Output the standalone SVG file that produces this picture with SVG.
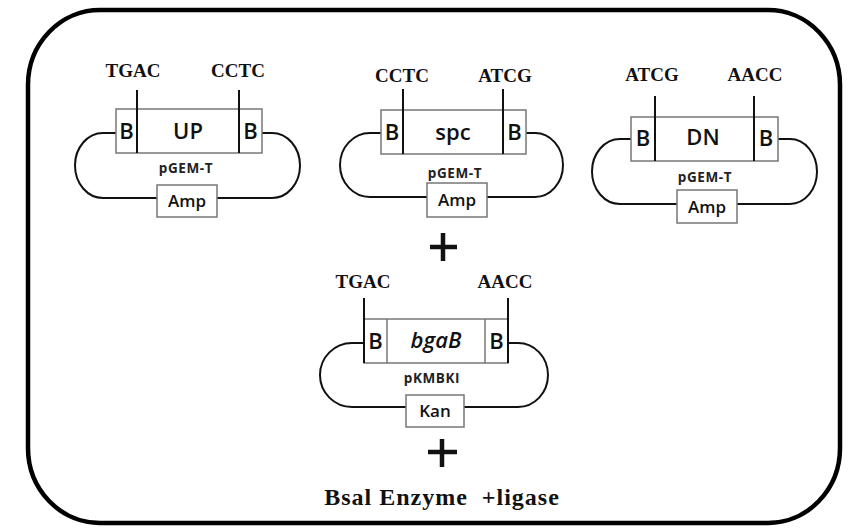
<svg xmlns="http://www.w3.org/2000/svg" width="851" height="528" viewBox="0 0 851 528">
<style>
.seq{font-family:"Liberation Serif",serif;font-weight:bold;font-size:19px;fill:#111;text-anchor:middle}
.lbl{font-family:"Open Sans","Liberation Sans",sans-serif;font-weight:600;font-size:22px;fill:#111;text-anchor:middle}
.vec{font-family:"Open Sans","Liberation Sans",sans-serif;font-weight:bold;font-size:13.5px;letter-spacing:0.6px;fill:#222;text-anchor:middle}
.mk{font-family:"Open Sans","Liberation Sans",sans-serif;font-weight:600;font-size:17px;fill:#111;text-anchor:middle}
.box{fill:#fff;stroke:#777;stroke-width:1.5}
.cut{stroke:#111;stroke-width:2;fill:none}
.loop{stroke:#111;stroke-width:2;fill:none}
.plus{stroke:#111;stroke-width:4.5;fill:none}
</style>
<rect x="28" y="10" width="812" height="513" rx="72" ry="75" fill="none" stroke="#000" stroke-width="4.5"/>

<g id="connectors">
<path class="loop" d="M116,133 H103 A28,32.5 0 0 0 103,198 H157 M217,198 H272 A28,32.5 0 0 0 272,133 H262"/>
<path class="loop" d="M381,133 H370 A30,32 0 0 0 370,197 H427 M487,197 H535 A28,32 0 0 0 535,133 H526"/>
<path class="loop" d="M631,139 H620 A28,32.5 0 0 0 620,204 H677 M737,204 H790 A27,32.5 0 0 0 790,139 H778"/>
<path class="loop" d="M364,343 H352 A32,32 0 0 0 352,407 H406 M464,407 H518 A30,32 0 0 0 518,343 H508"/>
</g>

<g id="plasmid-UP">
<rect class="box" x="116" y="109" width="146" height="44"/>
<line class="cut" x1="137" y1="90" x2="137" y2="153"/>
<line class="cut" x1="239" y1="90" x2="239" y2="153"/>
<text class="seq" x="133" y="77">TGAC</text>
<text class="seq" x="238" y="77">CCTC</text>
<text class="lbl" x="126.5" y="139">B</text>
<text class="lbl" x="188" y="139">UP</text>
<text class="lbl" x="250.5" y="139">B</text>
<text class="vec" x="186" y="173">pGEM-T</text>
<rect class="box" x="157" y="185" width="60" height="32"/>
<text class="mk" x="187" y="207">Amp</text>
</g>

<g id="plasmid-spc">
<rect class="box" x="381" y="110" width="145" height="44"/>
<line class="cut" x1="403" y1="89" x2="403" y2="154"/>
<line class="cut" x1="503" y1="89" x2="503" y2="154"/>
<text class="seq" x="402" y="82">CCTC</text>
<text class="seq" x="505" y="82">ATCG</text>
<text class="lbl" x="392" y="140">B</text>
<text class="lbl" x="453" y="140">spc</text>
<text class="lbl" x="514.5" y="140">B</text>
<text class="vec" x="455" y="178">pGEM-T</text>
<rect class="box" x="427" y="183" width="60" height="34"/>
<text class="mk" x="457" y="206">Amp</text>
</g>

<g id="plasmid-DN">
<rect class="box" x="631" y="117" width="147" height="44"/>
<line class="cut" x1="655" y1="96" x2="655" y2="161"/>
<line class="cut" x1="754" y1="96" x2="754" y2="161"/>
<text class="seq" x="652" y="81">ATCG</text>
<text class="seq" x="755" y="81">AACC</text>
<text class="lbl" x="643" y="146">B</text>
<text class="lbl" x="703" y="145">DN</text>
<text class="lbl" x="766" y="146">B</text>
<text class="vec" x="705" y="182">pGEM-T</text>
<rect class="box" x="677" y="190" width="60" height="33"/>
<text class="mk" x="707" y="213">Amp</text>
</g>

<g id="plus-1"><path class="plus" d="M430,247 H457 M443,233 V261"/></g>

<g id="plasmid-bgaB">
<rect class="box" x="364" y="319" width="144" height="44"/>
<line class="box" x1="387" y1="319" x2="387" y2="363"/>
<line class="box" x1="485" y1="319" x2="485" y2="363"/>
<line class="cut" x1="364" y1="298" x2="364" y2="363"/>
<line class="cut" x1="508" y1="298" x2="508" y2="363"/>
<text class="seq" x="363" y="288">TGAC</text>
<text class="seq" x="505" y="288">AACC</text>
<text class="lbl" x="375.5" y="349">B</text>
<text class="lbl" x="436" y="348" font-style="italic" font-weight="bold">bgaB</text>
<text class="lbl" x="496.5" y="349">B</text>
<text class="vec" x="432" y="383">pKMBKI</text>
<rect class="box" x="406" y="395" width="58" height="32"/>
<text class="mk" x="435" y="417">Kan</text>
</g>

<g id="plus-2"><path class="plus" d="M428,452 H457 M442,439 V467"/></g>

<g id="enzyme">
<text x="442" y="505" font-family="Liberation Serif,serif" font-weight="bold" font-size="24" letter-spacing="1" fill="#111" text-anchor="middle" xml:space="preserve">Bsal Enzyme  +ligase</text>
</g>
</svg>
